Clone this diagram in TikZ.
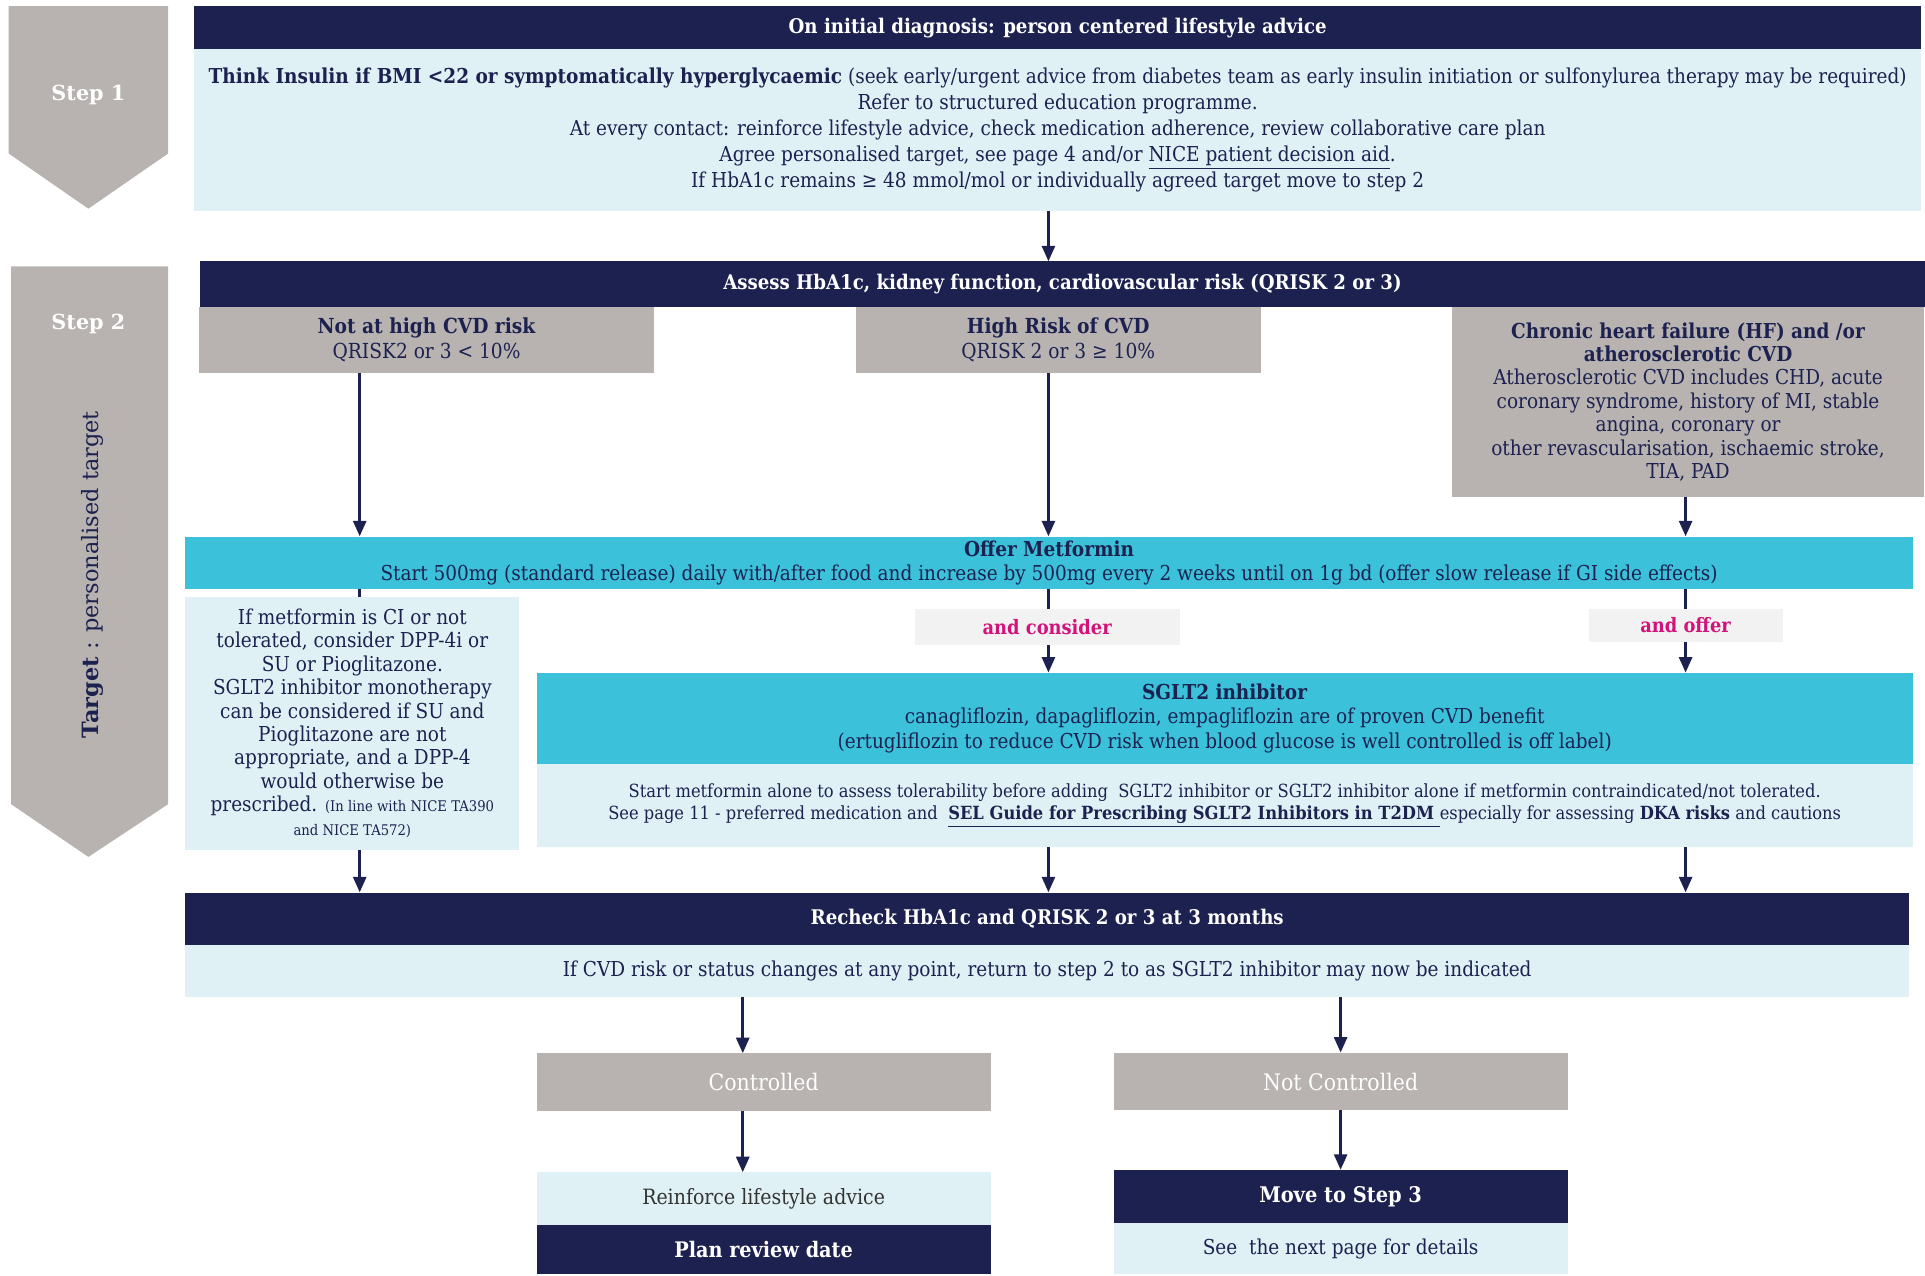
\documentclass[tikz,border=0pt]{standalone}
\usepackage{fontspec}
\setmainfont{DejaVu Serif Condensed}
\newfontfamily\stepfont{DejaVu Serif}
\usepackage{tikz}
\usetikzlibrary{arrows.meta,positioning}
\definecolor{navy}{HTML}{1C2150}
\definecolor{stepgray}{HTML}{B8B3B0}
\definecolor{paleblue}{HTML}{E0F1F6}
\definecolor{cyanbar}{HTML}{3BC1DA}
\definecolor{pink}{HTML}{D3127A}
\definecolor{offwhite}{HTML}{F2F2F2}
\tikzset{
  base/.style={inner sep=0pt, outer sep=0pt, align=center, text=navy, font=\fontsize{11.9}{15}\selectfont},
  wh/.style 2 args={minimum width=#1*0.025cm, minimum height=#2*0.025cm},
  darkbar/.style={base, fill=navy, text=white, font=\fontsize{11.7}{15}\selectfont\bfseries},
  palebox/.style={base, fill=paleblue},
  greybox/.style={base, fill=stepgray},
  cyanbox/.style={base, fill=cyanbar},
  notebox/.style={base, fill=offwhite, text=pink, font=\fontsize{11.5}{15}\selectfont\bfseries},
  arr/.style={-{Triangle[length=3.2mm,width=2.6mm]}, line width=2pt, navy},
  seg/.style={line width=2pt, navy},
}

\begin{document}
\begin{tikzpicture}[x=0.025cm, y=-0.025cm, node distance=0pt,
    steplbl/.style={text=white, font=\stepfont\fontsize{12}{15}\selectfont\bfseries},
    tight/.style={font=\fontsize{11.9}{13.6}\selectfont},
    small/.style={font=\fontsize{10.5}{13}\selectfont},
    outcome/.style={greybox, text=white, wh={370}{47}, font=\fontsize{13.2}{15}\selectfont}]
  \useasboundingbox (0,0) rectangle (1568,1039);
  % step arrows on the left
  \fill[stepgray] (7,5) -- (137,5) -- (137,125) -- (72,170) -- (7,125) -- cycle;
  \fill[stepgray] (9,217) -- (137,217) -- (137,655) -- (72,698) -- (9,655) -- cycle;
  \node[steplbl] (step1) at (72,77) {Step 1};
  \node[steplbl] (step2) at (72,264) {Step 2};
  \node[rotate=90, text=navy, font=\stepfont\fontsize{13}{15}\selectfont] (target) at (75,468)
    {\textbf{Target} : personalised target};

  % step 1
  \node[darkbar, wh={1407}{35}] (diag) at (861.5,22.5) {On initial diagnosis: person centered lifestyle advice};
  \node[palebox, wh={1407}{132}, below=of diag] (advice) {\textbf{Think Insulin if BMI <22 or symptomatically hyperglycaemic} (seek early/urgent advice from diabetes team as early insulin initiation or sulfonylurea therapy may be required)\\
    Refer to structured education programme.\\
    At every contact: reinforce lifestyle advice, check medication adherence, review collaborative care plan\\
    Agree personalised target, see page 4 and/or \underline{NICE patient decision aid}.\\
    If HbA1c remains ≥ 48 mmol/mol or individually agreed target move to step 2};

  % step 2
  \node[darkbar, wh={1405}{37}] (assess) at (865.5,231.5) {Assess HbA1c, kidney function, cardiovascular risk (QRISK 2 or 3)};
  \node[greybox, wh={371}{54}, font=\fontsize{12}{14.3}\selectfont] (notcvd) at (347.5,277) {\textbf{Not at high CVD risk}\\QRISK2 or 3 < 10\%};
  \node[greybox, wh={330}{54}, font=\fontsize{12}{14.3}\selectfont] (highcvd) at (862,277) {\textbf{High Risk of CVD}\\QRISK 2 or 3 ≥ 10\%};
  \node[greybox, tight, wh={384}{155}] (chronic) at (1375,327.5) {\textbf{Chronic heart failure (HF) and /or}\\
    \textbf{atherosclerotic CVD}\\
    Atherosclerotic CVD includes CHD, acute\\
    coronary syndrome, history of MI, stable\\
    angina, coronary or\\
    other revascularisation, ischaemic stroke,\\
    TIA, PAD};

  \node[cyanbox, tight, wh={1407}{43}] (metf) at (854.5,458.5) {\textbf{Offer Metformin}\\
    Start 500mg (standard release) daily with/after food and increase by 500mg every 2 weeks until on 1g bd (offer slow release if GI side effects)};
  \node[palebox, tight, wh={272}{206}] (altbox) at (287,589) {If metformin is CI or not\\
    tolerated, consider DPP-4i or\\
    SU or Pioglitazone.\\
    SGLT2 inhibitor monotherapy\\
    can be considered if SU and\\
    Pioglitazone are not\\
    appropriate, and a DPP-4\\
    would otherwise be\\
    prescribed. {\fontsize{8.5}{10}\selectfont (In line with NICE TA390}\\
    {\fontsize{8.5}{10}\selectfont and NICE TA572)}};
  \node[notebox, wh={216}{29}] (consider) at (853,510.5) {and consider};
  \node[notebox, wh={158}{27}] (offer) at (1373,509.5) {and offer};
  \node[cyanbox, wh={1121}{74}, font=\fontsize{11.9}{14.3}\selectfont] (sglt) at (997.5,585) {\textbf{SGLT2 inhibitor}\\
    canagliflozin, dapagliflozin, empagliflozin are of proven CVD benefit\\
    (ertugliflozin to reduce CVD risk when blood glucose is well controlled is off label)};
  \node[palebox, small, wh={1121}{68}, below=of sglt] (sgltnote) {Start metformin alone to assess tolerability before adding\ \ SGLT2 inhibitor or SGLT2 inhibitor alone if metformin contraindicated/not tolerated.\\
    See page 11 - preferred medication and\ \ \textbf{\underline{SEL Guide for Prescribing SGLT2 Inhibitors in T2DM }}especially for assessing \textbf{DKA risks} and cautions};

  \node[darkbar, wh={1404}{43}] (recheck) at (853,748.5) {Recheck HbA1c and QRISK 2 or 3 at 3 months};
  \node[palebox, wh={1404}{42}, below=of recheck] (cvdnote) {If CVD risk or status changes at any point, return to step 2 to as SGLT2 inhibitor may now be indicated};

  \node[outcome] (ctrl) at (622,881.5) {Controlled};
  \node[outcome] (notctrl) at (1092,881) {Not Controlled};
  \node[palebox, text=black!80, wh={370}{43}, font=\fontsize{12.2}{15}\selectfont] (reinforce) at (622,976.5) {Reinforce lifestyle advice};
  \node[darkbar, wh={370}{40}, font=\fontsize{12.4}{15}\selectfont\bfseries, below=of reinforce] (review) {Plan review date};
  \node[darkbar, wh={370}{43}, font=\fontsize{12.5}{15}\selectfont\bfseries] (step3) at (1092,974.5) {Move to Step 3};
  \node[palebox, wh={370}{42}, below=of step3] (details) {See\ \ the next page for details};

  % connectors
  \coordinate (colA) at (293,0);
  \coordinate (colB) at (854,0);
  \coordinate (colC) at (1373,0);
  \coordinate (colD) at (605,0);
  \draw[arr] (advice.south -| colB) -- (assess.north -| colB);
  \draw[arr] (notcvd.south -| colA) -- (metf.north -| colA);
  \draw[arr] (highcvd.south -| colB) -- (metf.north -| colB);
  \draw[arr] (chronic.south -| colC) -- (metf.north -| colC);
  \draw[seg] (metf.south -| colA) -- (altbox.north -| colA);
  \draw[seg] (metf.south -| colB) -- (consider.north -| colB);
  \draw[arr] (consider.south -| colB) -- (sglt.north -| colB);
  \draw[seg] (metf.south -| colC) -- (offer.north -| colC);
  \draw[arr] (offer.south -| colC) -- (sglt.north -| colC);
  \draw[arr] (altbox.south -| colA) -- (recheck.north -| colA);
  \draw[arr] (sgltnote.south -| colB) -- (recheck.north -| colB);
  \draw[arr] (sgltnote.south -| colC) -- (recheck.north -| colC);
  \draw[arr] (cvdnote.south -| colD) -- (ctrl.north -| colD);
  \draw[arr] (cvdnote.south -| notctrl.north) -- (notctrl.north);
  \draw[arr] (ctrl.south -| colD) -- (reinforce.north -| colD);
  \draw[arr] (notctrl.south) -- (step3.north);
\end{tikzpicture}
\end{document}
